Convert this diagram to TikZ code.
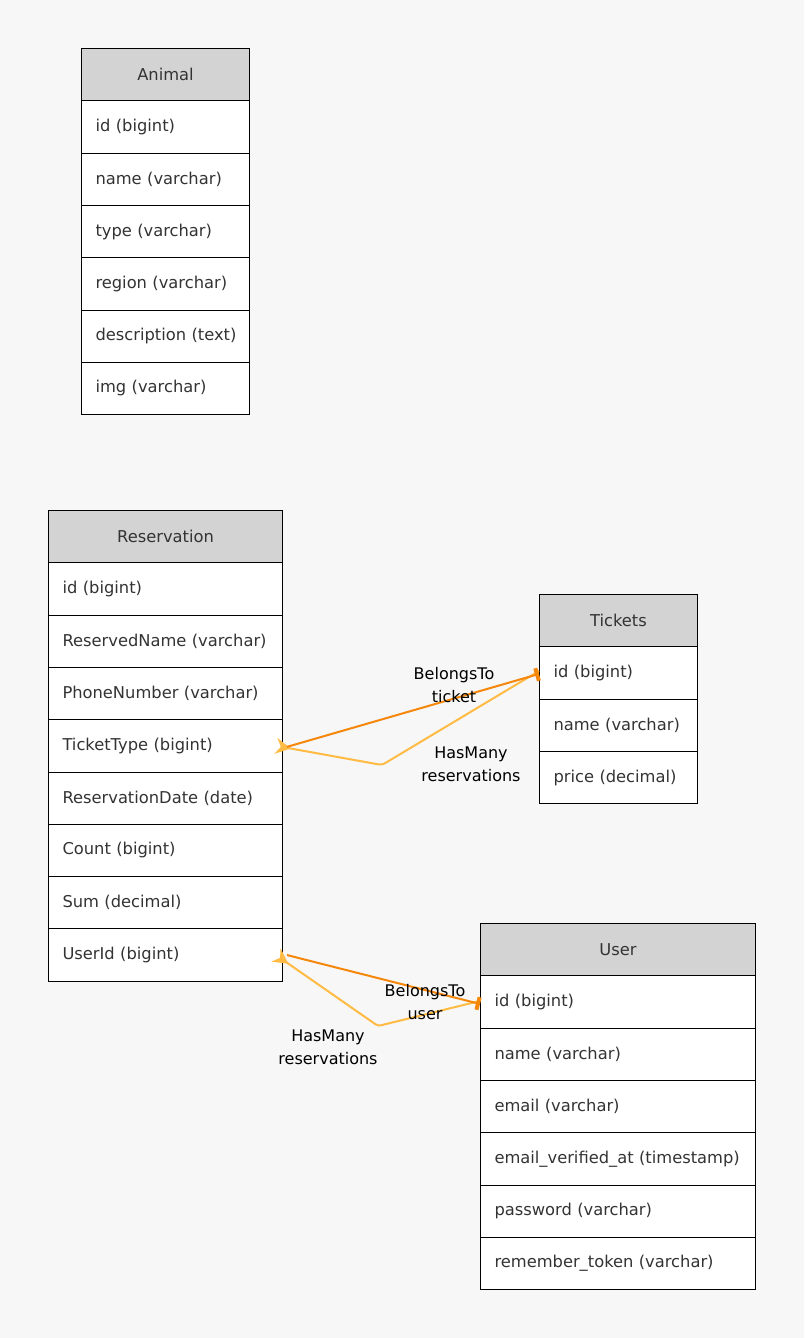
\documentclass[tikz,border=0pt]{standalone}
\usepackage{fontspec}
\setmainfont{DejaVu Sans}
\usetikzlibrary{arrows.meta}
\definecolor{bg}{HTML}{F7F7F7}
\definecolor{hdrgray}{HTML}{D3D3D3}
\definecolor{txt}{HTML}{333333}
\definecolor{darkor}{RGB}{245,135,10}
\definecolor{lightor}{RGB}{255,187,68}
\tikzset{
  cell/.style={draw=black, line width=1pt, anchor=north west, minimum height=52.3pt,
    inner xsep=14pt, inner ysep=0pt, text=txt, font=\fontsize{16.3}{19}\selectfont},
  hdrcell/.style={cell, fill=hdrgray, align=center},
  rowcell/.style={cell, fill=white, align=left},
  lbl/.style={font=\fontsize{16}{23}\selectfont, align=center, text=black, inner sep=0pt},
  belongs/.style={draw=darkor, line width=2pt},
  hasmany/.style={draw=lightor, line width=2pt, rounded corners=3pt},
  crow/.style={-{Stealth[reversed,length=15pt,width=16pt,inset=5pt]}},
  barend/.style={-{Rectangle[length=4pt,width=13pt]}},
}
\newcommand\ertable[6]{%
  \node[hdrcell, text width=#4pt-28pt] (#1-0) at (#2,#3) {#5};
  \foreach \t [count=\i] in {#6} {
    \node[rowcell, text width=#4pt-28pt] (#1-\i) at (#2,{#3+52.3*\i}) {\mbox{\t}};
  }
}
\begin{document}
\begin{tikzpicture}[x=1pt,y=-1pt]
\fill[bg] (0,0) rectangle (804,1338);
\useasboundingbox (0,0) rectangle (804,1338);

\ertable{ani}{81}{48}{168}{Animal}{id (bigint),name (varchar),type (varchar),region (varchar),description (text),img (varchar)}
\ertable{res}{48}{510}{234}{Reservation}{id (bigint),ReservedName (varchar),PhoneNumber (varchar),TicketType (bigint),ReservationDate (date),Count (bigint),Sum (decimal),UserId (bigint)}
\ertable{tic}{539}{594}{158}{Tickets}{id (bigint),name (varchar),price (decimal)}
\ertable{usr}{480}{923}{275}{User}{id (bigint),name (varchar),email (varchar),email\_verified\_at (timestamp),password (varchar),remember\_token (varchar)}

% Reservation <-> Tickets
\coordinate (b1) at (382,765);
\draw[hasmany, crow] ([yshift=2pt]tic-1.west) -- (b1) -- ([xshift=-7pt]res-4.east);
\draw[belongs, barend] ([xshift=4pt,yshift=-1pt]res-4.east) -- ([yshift=-1pt]tic-1.west);
\node[lbl] (l1) at (454,685) {BelongsTo\\ticket};
\node[lbl] (l2) at (471,764) {HasMany\\reservations};

% Reservation <-> User
\coordinate (b2) at (378,1026);
\draw[hasmany, crow] ([yshift=1pt]usr-1.west) -- (b2) -- ([xshift=-7pt]res-8.east);
\draw[belongs, barend] ([xshift=4pt]res-8.east) -- ([yshift=-2pt]usr-1.west);
\node[lbl] (l3) at (425,1002) {BelongsTo\\user};
\node[lbl] (l4) at (328,1047) {HasMany\\reservations};
\end{tikzpicture}
\end{document}
